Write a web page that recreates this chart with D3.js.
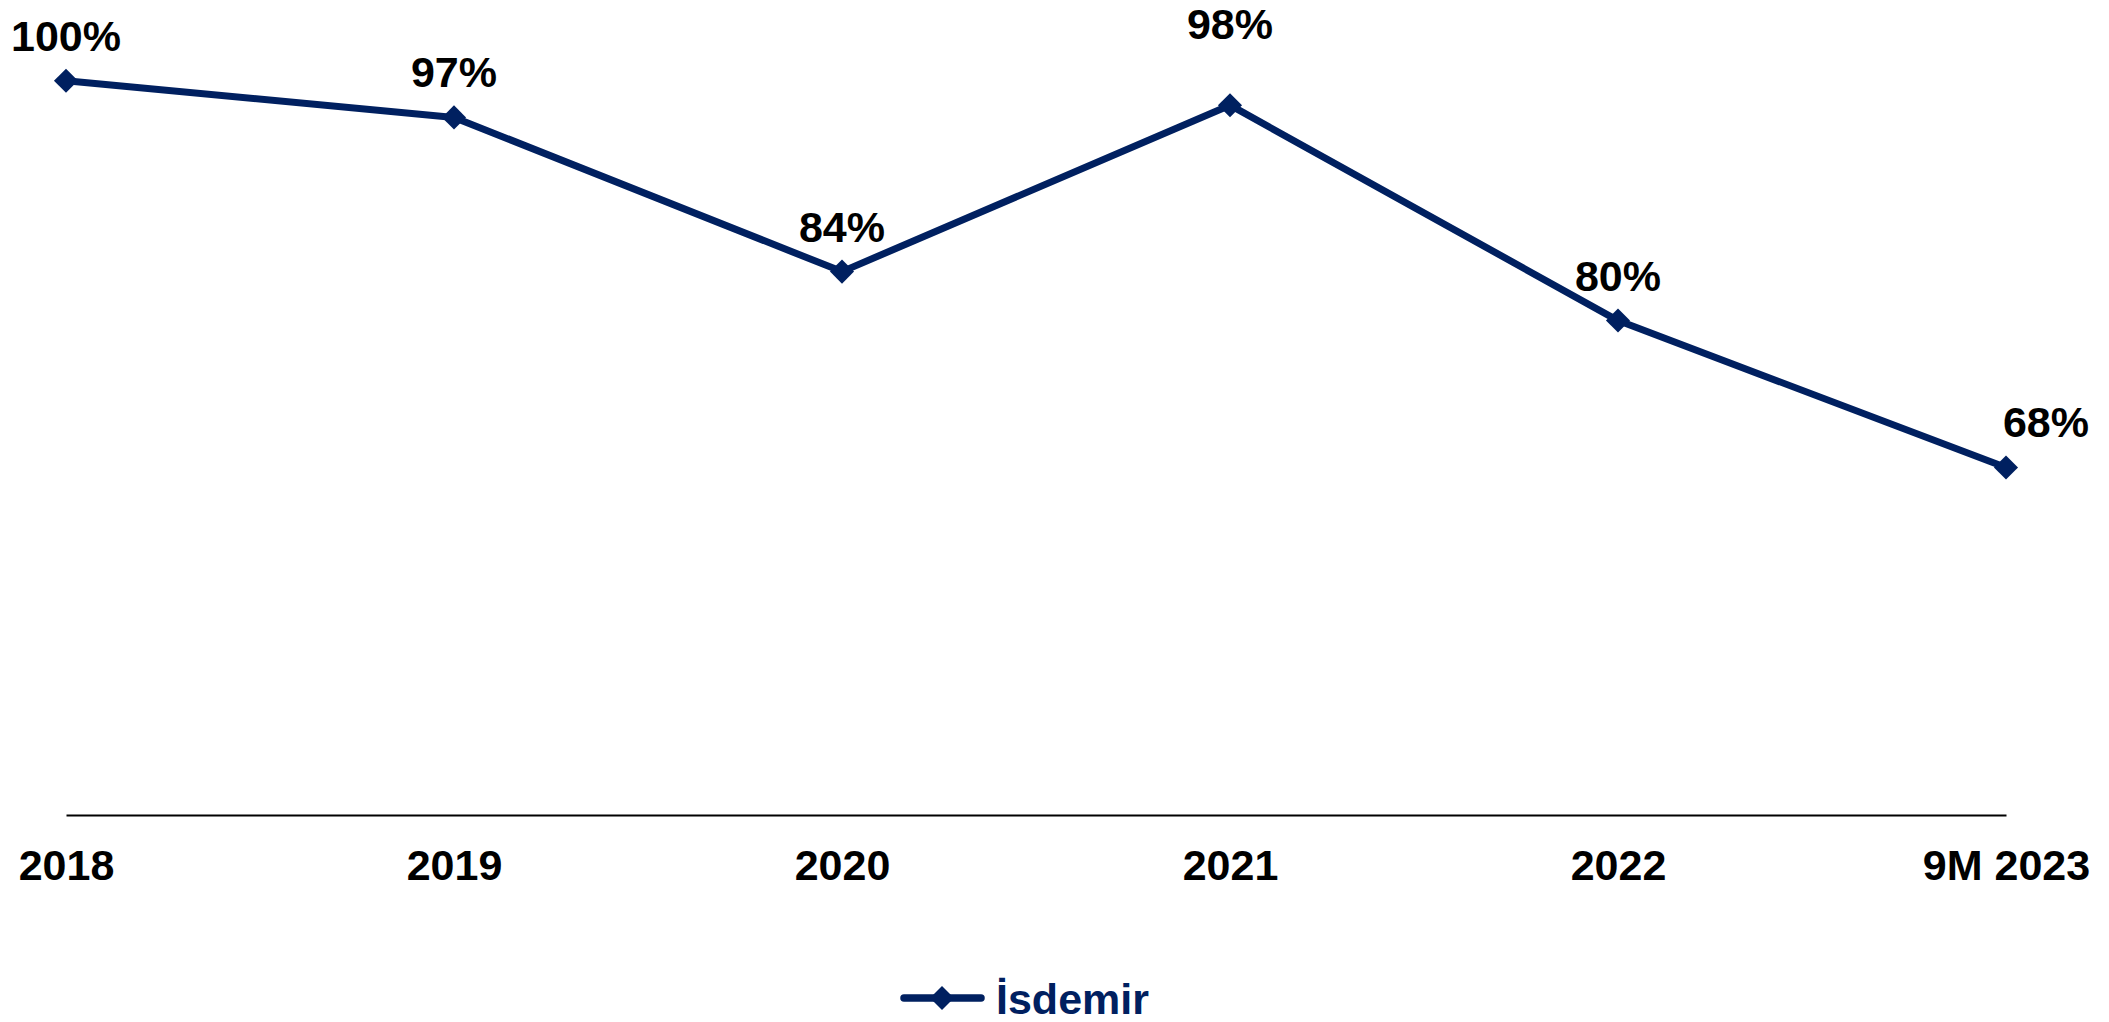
<!DOCTYPE html>
<html>
<head>
<meta charset="utf-8">
<script src="https://cdn.jsdelivr.net/npm/d3@7"></script>
<style>
  html, body { margin: 0; padding: 0; background: #ffffff; }
  svg { display: block; }
  text { font-family: "Liberation Sans", Arial, sans-serif; font-weight: bold; }
</style>
</head>
<body>
<svg id="chart" width="2109" height="1022"></svg>
<script>
// ---- data ----
const categories = ["2018", "2019", "2020", "2021", "2022", "9M 2023"];
const values = [100, 97, 84.4, 98, 80.4, 68.4];   // capacity utilisation, %
const seriesName = "İsdemir";

// ---- setup ----
const navy = "#002060";
const svg = d3.select("#chart");

const x = d3.scalePoint().domain(categories).range([66, 2006]);
const y = d3.scaleLinear().domain([40, 100]).range([815, 80.7]);

// axis (baseline only, no ticks)
const xAxis = d3.axisBottom(x).tickSize(0).tickPadding(0);
const gx = svg.append("g").attr("transform", `translate(0,${y(40)})`).call(xAxis);
gx.select(".domain").attr("stroke", "#000").attr("stroke-width", 2.2);
gx.selectAll(".tick text")
  .attr("y", 0).attr("dy", 0)
  .attr("transform", "translate(0,65)")
  .attr("fill", "#000")
  .style("font-family", '"Liberation Sans", Arial, sans-serif')
  .style("font-weight", "bold")
  .style("font-size", "43px");

const data = categories.map((c, i) => ({ c, v: values[i], i }));

// line
const line = d3.line().x(d => x(d.c)).y(d => y(d.v));
svg.append("path").datum(data)
  .attr("d", line)
  .attr("fill", "none")
  .attr("stroke", navy)
  .attr("stroke-width", 7)
  .attr("stroke-linejoin", "round");

// markers (rotated squares = diamonds)
const diamond = d3.symbol().type(d3.symbolSquare).size(290);
svg.selectAll("path.marker").data(data).enter().append("path")
  .attr("class", "marker")
  .attr("d", diamond)
  .attr("fill", navy)
  .attr("transform", d => `translate(${x(d.c)},${y(d.v)}) rotate(45)`);

// data labels
const fmt = v => d3.format(".0f")(v) + "%";
svg.selectAll("text.lbl").data(data).enter().append("text")
  .attr("class", "lbl")
  .attr("x", d => x(d.c) + (d.i === categories.length - 1 ? 40 : 0))
  .attr("y", d => y(d.v) - (d.i === 3 ? 66 : 30))
  .attr("text-anchor", "middle")
  .attr("fill", "#000")
  .style("font-size", "43px")
  .text(d => fmt(d.v));

// legend
const lg = svg.append("g").attr("transform", "translate(0,998)");
lg.append("line")
  .attr("x1", 904).attr("x2", 981).attr("y1", 0).attr("y2", 0)
  .attr("stroke", navy).attr("stroke-width", 7.5).attr("stroke-linecap", "round");
lg.append("path")
  .attr("d", diamond)
  .attr("fill", navy)
  .attr("transform", "translate(942,0) rotate(45)");
lg.append("text")
  .attr("x", 996).attr("y", 16)
  .attr("fill", navy)
  .style("font-size", "43px")
  .text(seriesName);
</script>
</body>
</html>
